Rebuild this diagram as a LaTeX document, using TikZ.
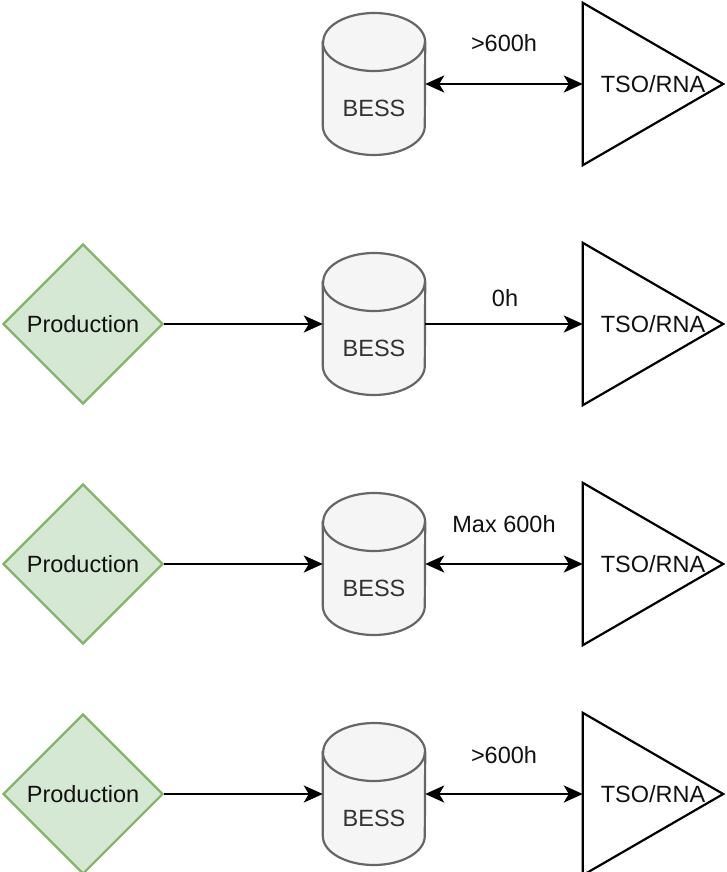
\documentclass[tikz,border=0pt]{standalone}
\usepackage{fontspec}
\setmainfont{Liberation Sans}
\usetikzlibrary{shapes.geometric,arrows.meta}
\definecolor{prodfill}{HTML}{D5E8D4}
\definecolor{prodline}{HTML}{82B366}
\definecolor{cylfill}{HTML}{F5F5F5}
\definecolor{cylline}{HTML}{666666}
\definecolor{txt}{HTML}{111111}
\tikzset{
  tipA/.tip={Stealth[length=19pt,width=17pt,inset=5pt]},
  fwd/.style={-tipA},
  both/.style={tipA-tipA}
}
\begin{document}
\begin{tikzpicture}[x=1pt,y=1pt,
  every node/.style={font=\fontsize{23.5}{28}\selectfont, text=txt},
  prod/.style={shape=diamond, draw=prodline, fill=prodfill, line width=2.2pt,
    minimum width=160pt, minimum height=160pt, inner sep=0pt},
  cylbox/.style={shape=rectangle, minimum width=102pt, minimum height=142pt, inner sep=0pt},
  cylpath/.style={draw=cylline, fill=cylfill, line width=2.2pt},
  tribox/.style={shape=rectangle, minimum width=140pt, minimum height=162pt, inner sep=0pt},
  tripath/.style={draw=black, line width=2.2pt, line join=miter},
  conn/.style={draw=black, line width=2.4pt},
  lbl/.style={inner sep=0pt}
]
\useasboundingbox (0,0) rectangle (726,-872);
\clip (0,0) rectangle (726,-872);

% cylinder macro
\newcommand{\drawcyl}[1]{%
  \path[cylpath] ([yshift=42pt]#1.west) -- ([yshift=-42pt]#1.west)
     arc[start angle=180,end angle=360,x radius=51pt,y radius=29pt]
     -- ([yshift=42pt]#1.east)
     arc[start angle=0,end angle=180,x radius=51pt,y radius=29pt] -- cycle;
  \draw[cylpath,fill=none] ([yshift=42pt]#1.west)
     arc[start angle=180,end angle=360,x radius=51pt,y radius=29pt];
  \node[text=black!80] at ([yshift=-24pt]#1.center) {BESS};}
\newcommand{\drawtri}[1]{%
  \draw[tripath] (#1.north west) -- (#1.east) -- (#1.south west) -- cycle;}

% Row 1
\node[cylbox] (b1) at (374,-84) {};
\drawcyl{b1}
\node[tribox] (t1) at (653,-84) {};
\drawtri{t1}
\node at (t1.center) {TSO/RNA};
\draw[conn,both] (b1.east) -- (t1.west);
\node[lbl] (l1) at (504,-43) {>600h};

% Row 2
\node[prod] (p2) at (83,-324) {Production};
\node[cylbox] (b2) at (374,-324) {};
\drawcyl{b2}
\node[tribox] (t2) at (653,-324) {};
\drawtri{t2}
\node at (t2.center) {TSO/RNA};
\draw[conn,fwd] (p2.east) -- (b2.west);
\draw[conn,fwd] (b2.east) -- (t2.west);
\node[lbl] (l2) at (505,-298) {0h};

% Row 3
\node[prod] (p3) at (83,-564) {Production};
\node[cylbox] (b3) at (374,-564) {};
\drawcyl{b3}
\node[tribox] (t3) at (653,-564) {};
\drawtri{t3}
\node at (t3.center) {TSO/RNA};
\draw[conn,fwd] (p3.east) -- (b3.west);
\draw[conn,both] (b3.east) -- (t3.west);
\node[lbl] (l3) at (504,-524) {Max 600h};

% Row 4
\node[prod] (p4) at (83,-794) {Production};
\node[cylbox] (b4) at (374,-794) {};
\drawcyl{b4}
\node[tribox] (t4) at (653,-794) {};
\drawtri{t4}
\node at (t4.center) {TSO/RNA};
\draw[conn,fwd] (p4.east) -- (b4.west);
\draw[conn,both] (b4.east) -- (t4.west);
\node[lbl] (l4) at (504,-755) {>600h};
\end{tikzpicture}
\end{document}
